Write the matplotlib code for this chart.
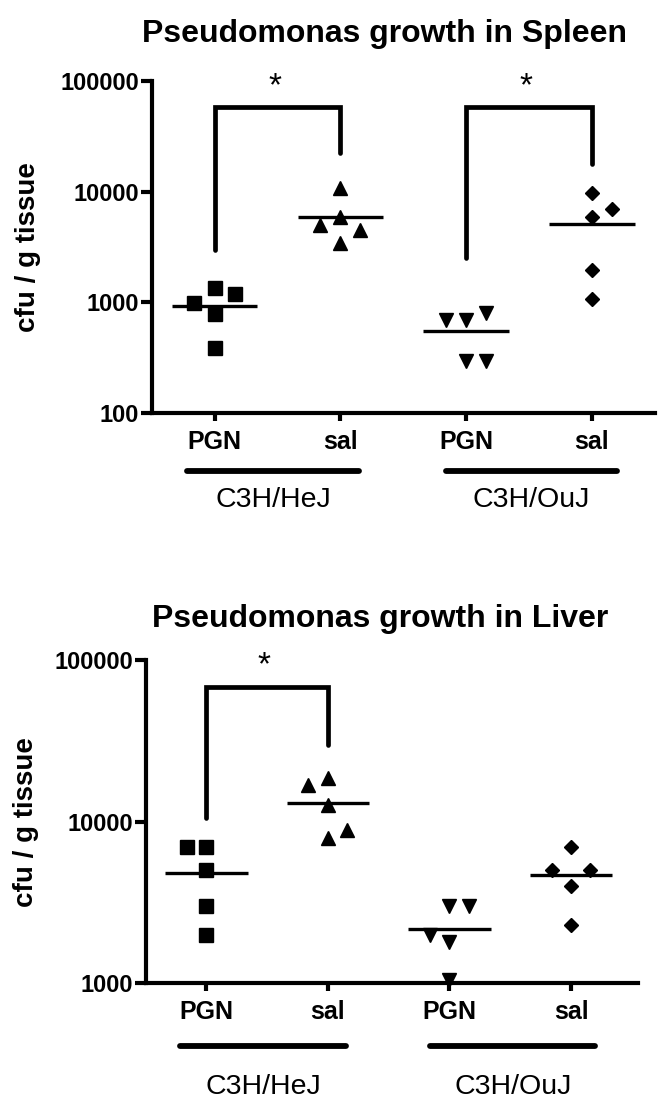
import numpy as np
import matplotlib
matplotlib.use("Agg")
import matplotlib.pyplot as plt
import matplotlib.transforms as mtransforms
from matplotlib.ticker import FixedLocator, NullLocator

plt.rcParams['font.family'] = ['Liberation Sans', 'DejaVu Sans']

# categories
groups = ['PGN', 'sal', 'PGN', 'sal']
strains = ['C3H/HeJ', 'C3H/OuJ']
markers = ['s', '^', 'v', 'D']

# spleen, cfu / g tissue
spleen_hej_pgn = [1350, 1180, 980, 780, 385]
spleen_hej_sal = [10900, 5850, 5000, 4500, 3450]
spleen_ouj_pgn = [690, 690, 795, 295, 295]
spleen_ouj_sal = [9800, 6900, 5950, 1950, 1070]

# liver, cfu / g tissue
liver_hej_pgn = [7000, 7000, 5000, 3000, 2000]
liver_hej_sal = [16800, 18700, 12700, 8900, 7900]
liver_ouj_pgn = [3000, 3000, 2000, 1800, 1050]
liver_ouj_sal = [6950, 5000, 5000, 4000, 2300]

# horizontal scatter of the points
spleen_jitter = [[0, 0.16, -0.16, 0, 0],
                 [0, 0, -0.16, 0.16, 0],
                 [-0.16, 0, 0.16, 0, 0.16],
                 [0, 0.16, 0, 0, 0]]
liver_jitter = [[-0.16, 0, 0, 0, 0],
                [-0.16, 0, 0, 0.16, 0],
                [0, 0.16, -0.16, 0, 0],
                [0, -0.16, 0.16, 0, 0]]

# significance brackets: (x_left, x_right, y_top, y_left_end, y_right_end)
spleen_brackets = [(1, 2, 58000, 2970, 22400), (3, 4, 58000, 2500, 17700)]
liver_brackets = [(1, 2, 67800, 10600, 29800)]


def draw_panel(ax, series, jitter, brackets, title, ylim, yticks, xmax,
               line_y, label_y, title_x, title_pad):
    for i, vals in enumerate(series):
        x = np.array(jitter[i]) + i + 1
        ax.plot(x, vals, ls='none', marker=markers[i], color='black',
                markersize=9.5 if markers[i] != 'D' else 7.5, clip_on=False,
                zorder=3)
        m = np.mean(vals)
        ax.plot([i + 1 - 0.34, i + 1 + 0.34], [m, m], color='black', lw=2.4,
                solid_capstyle='butt', zorder=2)

    for xl, xr, yt, yl, yr in brackets:
        ax.plot([xl, xl, xr, xr], [yl, yt, yt, yr], color='black', lw=3.4,
                solid_capstyle='round', solid_joinstyle='miter', clip_on=False)
        ax.annotate('*', xy=((xl + xr) / 2, ylim[1]), xytext=(-2, -10),
                    textcoords='offset points', ha='center', va='baseline',
                    fontsize=24, annotation_clip=False)

    ax.set_yscale('log')
    ax.set_ylim(*ylim)
    ax.set_xlim(0.5, xmax)
    ax.yaxis.set_major_locator(FixedLocator(yticks))
    ax.yaxis.set_minor_locator(NullLocator())
    ax.set_yticklabels([str(t) for t in yticks])
    ax.set_xticks([1, 2, 3, 4])
    ax.set_xticklabels(groups)
    for lab in ax.get_xticklabels() + ax.get_yticklabels():
        lab.set_fontweight('bold')
    ax.tick_params(axis='y', length=8, width=3, pad=1, labelsize=17)
    ax.tick_params(axis='x', length=6, width=3, pad=6, labelsize=18)

    for s in ['top', 'right']:
        ax.spines[s].set_visible(False)
    for s in ['left', 'bottom']:
        ax.spines[s].set_linewidth(3)

    ax.set_ylabel('cfu / g tissue', fontsize=20, fontweight='bold')
    ax.set_title(title, fontsize=23, fontweight='bold', pad=title_pad,
                 x=title_x)

    trans = mtransforms.blended_transform_factory(ax.transData, ax.transAxes)
    spans = [(0.78, 2.15), (2.84, 4.2)]
    for (a, b), name in zip(spans, strains):
        ax.plot([a, b], [line_y, line_y], color='black', lw=4.2,
                solid_capstyle='round', transform=trans, clip_on=False)
        ax.text((a + b) / 2, label_y, name, ha='center', va='center',
                fontsize=20.5, transform=trans)


fig = plt.figure(figsize=(6.66, 11.14), dpi=100)

ax1 = fig.add_axes([0.2278, 0.6293, 0.7553, 0.298])
draw_panel(ax1, [spleen_hej_pgn, spleen_hej_sal, spleen_ouj_pgn, spleen_ouj_sal],
           spleen_jitter, spleen_brackets, 'Pseudomonas growth in Spleen',
           (100, 100000), [100, 1000, 10000, 100000], 4.5, -0.175, -0.262,
           0.462, 28)
ax1.yaxis.set_label_coords(-0.22, 0.5)

ax2 = fig.add_axes([0.2186, 0.1173, 0.7392, 0.2902])
draw_panel(ax2, [liver_hej_pgn, liver_hej_sal, liver_ouj_pgn, liver_ouj_sal],
           liver_jitter, liver_brackets, 'Pseudomonas growth in Liver',
           (1000, 100000), [1000, 10000, 100000], 4.55, -0.194, -0.32,
           0.476, 24)
ax2.yaxis.set_label_coords(-0.217, 0.5)

fig.savefig('out.png', dpi=100)
